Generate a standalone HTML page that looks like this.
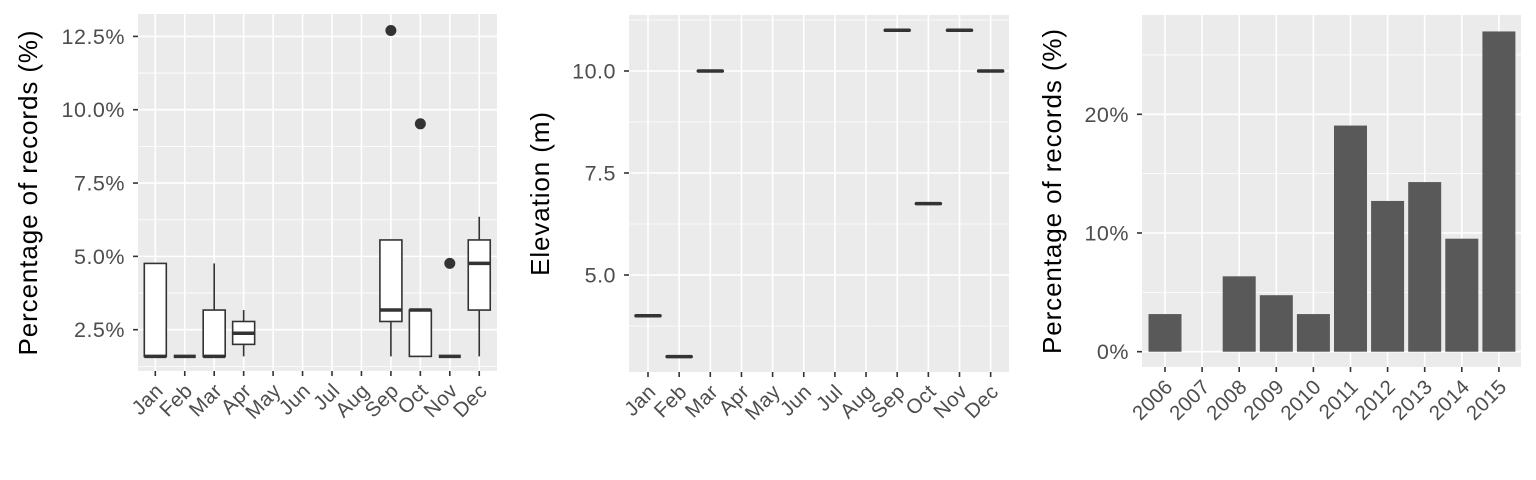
<!DOCTYPE html>
<html><head><meta charset="utf-8"><style>
body{margin:0;background:#fff;}
svg{display:block;font-family:"Liberation Sans",sans-serif;}
</style></head><body>
<svg id="c" width="1536" height="480" xmlns="http://www.w3.org/2000/svg"></svg>
<script>
const months = ["Jan","Feb","Mar","Apr","May","Jun","Jul","Aug","Sep","Oct","Nov","Dec"];
// boxplot: [wlo, q1, med, q3, whi] per month, null = no data
const boxStats = [
  [1.59,1.59,1.59,4.76,4.76],
  [1.59,1.59,1.59,1.59,1.59],
  [1.59,1.59,1.59,3.17,4.76],
  [1.59,2.0,2.38,2.78,3.17],
  null,null,null,null,
  [1.59,2.78,3.17,5.56,5.56],
  [1.59,1.59,3.17,3.17,3.17],
  [1.59,1.59,1.59,1.59,1.59],
  [1.59,3.17,4.76,5.56,6.35]
];
const outlierMonths = [8, 9, 10];
const outlierValues = [12.7, 9.52, 4.76];
const pctTicks = [2.5, 5.0, 7.5, 10.0, 12.5];
const pctTickLabels = ["2.5%","5.0%","7.5%","10.0%","12.5%"];
const pctMinor = [1.25, 3.75, 6.25, 8.75, 11.25];

const elevValues = [4, 3, 10, null, null, null, null, null, 11, 6.75, 11, 10];
const elevTicks = [5.0, 7.5, 10.0];
const elevTickLabels = ["5.0","7.5","10.0"];
const elevMinor = [3.75, 6.25, 8.75, 11.25];

const years = ["2006","2007","2008","2009","2010","2011","2012","2013","2014","2015"];
const yearPct = [3.17, 0, 6.35, 4.76, 3.17, 19.05, 12.7, 14.29, 9.52, 26.98];
const yearTicks = [0, 10, 20];
const yearTickLabels = ["0%","10%","20%"];
const yearMinor = [5, 15, 25];

const svg = document.getElementById('c');
const NS = "http://www.w3.org/2000/svg";
function mk(tag, attrs, parent){const e=document.createElementNS(NS,tag);for(const k in attrs)e.setAttribute(k,attrs[k]);(parent||svg).appendChild(e);return e;}

function panel(o){
  const g = mk('g',{});
  
  
  const bg = mk('rect',{x:o.x0,y:o.y0,width:o.x1-o.x0,height:o.y1-o.y0,fill:'#ebebeb'},g);
  
  
  o.minor.forEach(v=>{const y=o.ys(v);mk('line',{x1:o.x0,x2:o.x1,y1:y,y2:y,stroke:'#fff','stroke-width':0.8},g);});
  o.ticks.forEach((v,i)=>{const y=o.ys(v);
    mk('line',{x1:o.x0,x2:o.x1,y1:y,y2:y,stroke:'#fff','stroke-width':1.6},g);
    mk('line',{x1:o.x0-5,x2:o.x0,y1:y,y2:y,stroke:'#333','stroke-width':1.6},g);
    const t=mk('text',{x:o.x0-13,y:y+7.5,'text-anchor':'end','font-size':21.5,'letter-spacing':0.5,fill:'#4d4d4d'},g);
    t.textContent=o.tickLabels[i];
    
    
  });
  o.cats.forEach((c,i)=>{const x=o.xs(i);
    mk('line',{x1:x,x2:x,y1:o.y0,y2:o.y1,stroke:'#fff','stroke-width':1.6},g);
    mk('line',{x1:x,x2:x,y1:o.y1,y2:o.y1+5,stroke:'#333','stroke-width':1.6},g);
    const t=mk('text',{x:0,y:0,'text-anchor':'end','font-size':20.5,'letter-spacing':0.4,fill:'#4d4d4d',transform:`translate(${x+9},${o.y1+21}) rotate(-45)`},g);
    t.textContent=c;
    
    
  });
  const tt=mk('text',{x:0,y:0,'text-anchor':'middle','font-size':26,'letter-spacing':0.9,fill:'#000',transform:`translate(${o.titleX},${(o.y0+o.y1)/2}) rotate(-90)`},g);
  tt.textContent=o.title;
  
  
  return g;
}

// Panel 1
const p1 = {name:'monthly-percentage-boxplot',x0:138,x1:497,y0:14,y1:371,cats:months,
  xs:i=>155.3+i*29.45, ys:v=>329.7-(v-2.5)*29.33, ticks:pctTicks, tickLabels:pctTickLabels, minor:pctMinor,
  title:'Percentage of records (%)', titleX:37};
const g1 = panel(p1);
boxStats.forEach((s,i)=>{
  if(!s) return;
  const x=p1.xs(i), hw=11;
  const bg=mk('g',{},g1);
  
  
  mk('line',{x1:x,x2:x,y1:p1.ys(s[0]),y2:p1.ys(s[1]),stroke:'#333','stroke-width':1.6},bg);
  mk('line',{x1:x,x2:x,y1:p1.ys(s[3]),y2:p1.ys(s[4]),stroke:'#333','stroke-width':1.6},bg);
  mk('rect',{x:x-hw,y:p1.ys(s[3]),width:2*hw,height:Math.max(0,p1.ys(s[1])-p1.ys(s[3])),fill:'#fff',stroke:'#333','stroke-width':1.6},bg);
  mk('line',{x1:x-hw,x2:x+hw,y1:p1.ys(s[2]),y2:p1.ys(s[2]),stroke:'#333','stroke-width':3.5},bg);
});
outlierMonths.forEach((m,i)=>{
  const c=mk('circle',{cx:p1.xs(m),cy:p1.ys(outlierValues[i]),r:5.5,fill:'#333'},g1);
  
  
});

// Panel 2
const p2 = {name:'monthly-elevation-chart',x0:629,x1:1009,y0:15,y1:372,cats:months,
  xs:i=>648+i*31.15, ys:v=>275-(v-5)*40.8, ticks:elevTicks, tickLabels:elevTickLabels, minor:elevMinor,
  title:'Elevation (m)', titleX:549};
const g2 = panel(p2);
elevValues.forEach((v,i)=>{
  if(v===null) return;
  const x=p2.xs(i);
  const l=mk('line',{x1:x-12,x2:x+12,y1:p2.ys(v),y2:p2.ys(v),stroke:'#333','stroke-width':3.5,'stroke-linecap':'round'},g2);
  
  
});

// Panel 3
const p3 = {name:'yearly-percentage-bar-chart',x0:1142,x1:1521,y0:15,y1:367,cats:years,
  xs:i=>1165+i*37.1, ys:v=>351.7-v*11.87, ticks:yearTicks, tickLabels:yearTickLabels, minor:yearMinor,
  title:'Percentage of records (%)', titleX:1061};
const g3 = panel(p3);
yearPct.forEach((v,i)=>{
  if(v<=0) return;
  const x=p3.xs(i), hw=16.5;
  const r=mk('rect',{x:x-hw,y:p3.ys(v),width:2*hw,height:p3.ys(0)-p3.ys(v),fill:'#595959'},g3);
  
  
});
</script>
</body></html>
